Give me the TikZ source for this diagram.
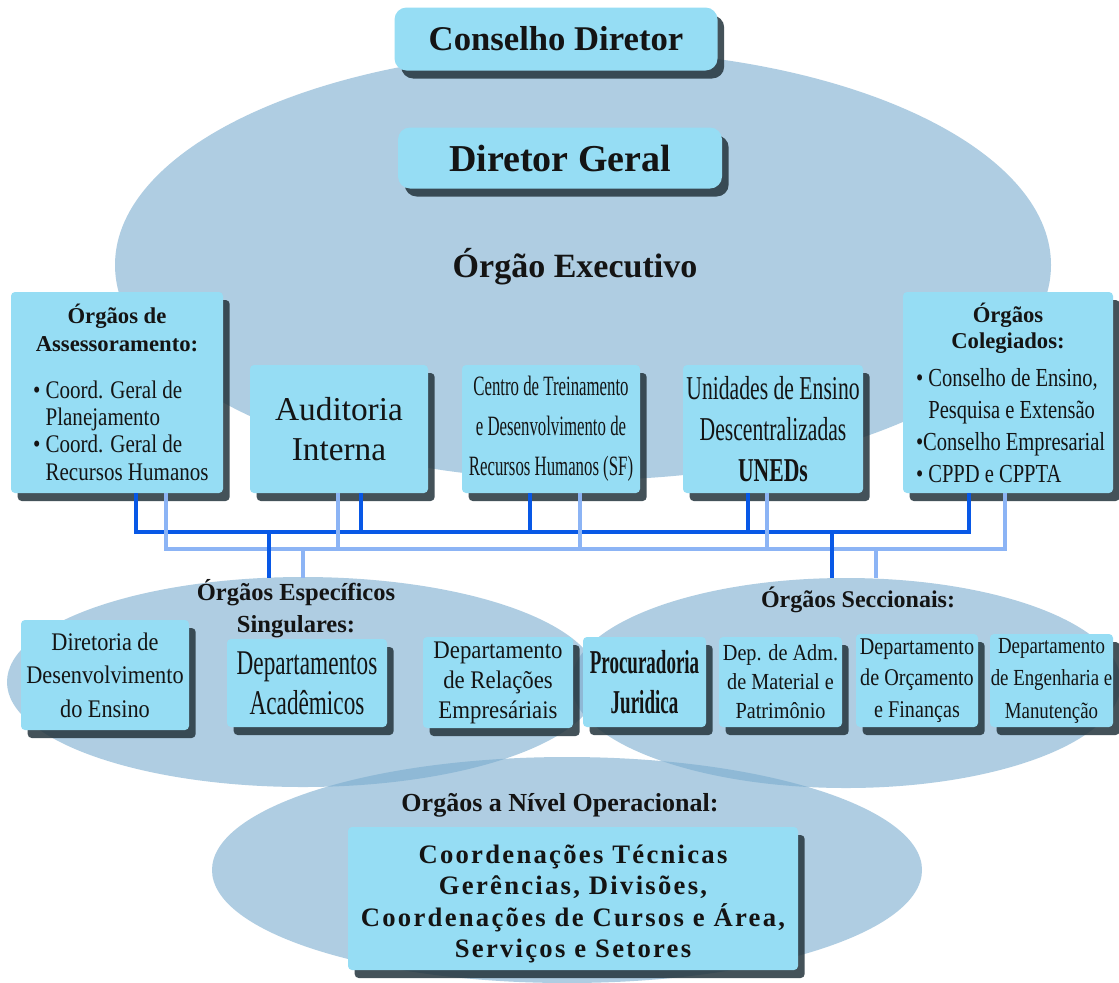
\documentclass[tikz,border=0pt]{standalone}
\usepackage{fontspec}
\setmainfont{Liberation Serif}
\usetikzlibrary{
    shadows,
    positioning
}

\definecolor{fieldblue}{RGB}{122,172,207}
\definecolor{boxcyan}{RGB}{150,221,244}
\definecolor{shade}{RGB}{36,52,60}
\definecolor{busdark}{RGB}{8,88,230}
\definecolor{buslight}{RGB}{140,180,245}
\definecolor{ink}{RGB}{20,20,20}

\newcommand\setfs[2]{\fontsize{#1}{#2}\selectfont}
\newcommand\squeeze[1]{\addfontfeatures{FakeStretch=#1}}
\newcommand\bline[2]{\makebox[#1][l]{#2}}
\newcommand\boxhead[1]{\mbox{\normalfont\setfs{17}{20}\bfseries #1}}

\begin{document}
\begin{tikzpicture}[x=0.75pt, y=-0.75pt,
    field/.style={fill=fieldblue, fill opacity=0.6},
    dims/.style 2 args={minimum width=#1*0.75pt, minimum height=#2*0.75pt},
    orgbox/.style={fill=boxcyan, rounded corners=3pt, inner sep=0pt, align=center, text=ink,
        drop shadow={shadow xshift=5pt, shadow yshift=-6pt, fill=shade, opacity=0.85}},
    headbox/.style={orgbox, rounded corners=9pt},
    lbl/.style={text=ink, align=center, inner sep=0pt},
    darkbus/.style={draw=busdark, line width=3.6pt},
    lightbus/.style={draw=buslight, line width=3.6pt}
]
    \fill[white] (0,0) rectangle (1119,982);
    \useasboundingbox (0,0) rectangle (1119,982);

    % background fields
    \fill[field] (583,265) ellipse [x radius=468, y radius=215];
    \fill[field] (303,682) ellipse [x radius=296, y radius=105];
    \fill[field] (846,683) ellipse [x radius=275, y radius=105];
    \fill[field] (567,870) ellipse [x radius=355, y radius=113];

    % top
    \node[headbox, dims={323}{63}, font=\setfs{26}{30}\bfseries] (council) at (556,39) {Conselho Diretor};
    \node[headbox, dims={324}{61}, font=\setfs{28.5}{32}\bfseries] (director) at (560,158) {Diretor Geral};
    \node[lbl, font=\setfs{25.5}{30}\bfseries] (exec) at (575,267) {Órgão Executivo};

    % executive row
    \node[orgbox, dims={212}{201}, font=\setfs{19}{20.5}\squeeze{0.83}] (assess) at (117,392.5)
        {\boxhead{Órgãos de}\\\boxhead{Assessoramento:}\\[14.7pt]
         \bline{126pt}{• Coord. Geral de}\\
         \bline{126pt}{\phantom{• }Planejamento}\\
         \bline{126pt}{• Coord. Geral de}\\
         \bline{126pt}{\phantom{• }Recursos Humanos}};
    \node[orgbox, dims={178}{128}, font=\setfs{25}{30}] (audit) at (339,429) {Auditoria\\Interna};
    \node[orgbox, dims={178}{128}, font=\setfs{21}{30}\squeeze{0.6}] (centro) at (551,429)
        {Centro de Treinamento\\e Desenvolvimento de\\Recursos Humanos (SF)};
    \node[orgbox, dims={180}{128}, font=\setfs{25}{30.75}\squeeze{0.65}] (unid) at (773,429)
        {Unidades de Ensino\\Descentralizadas\\\textbf{UNEDs}};
    \node[orgbox, dims={210}{201}, font=\setfs{19.5}{23.8}\squeeze{0.79}] (coleg) at (1008,392.5)
        {\boxhead{Órgãos}\\[-3.8pt]\boxhead{Colegiados:}\\[4.7pt]
         \bline{138pt}{• Conselho de Ensino,}\\
         \bline{138pt}{\phantom{• }Pesquisa e Extensão}\\
         \bline{138pt}{•Conselho Empresarial}\\
         \bline{138pt}{• CPPD e CPPTA}};

    % lower rows
    \node[lbl, font=\setfs{18.4}{24}\bfseries] (espec) at (296,609) {Órgãos Específicos\\Singulares:};
    \node[lbl, font=\setfs{18}{22}\bfseries] (secc) at (858,600) {Órgãos Seccionais:};

    \node[orgbox, dims={168}{110}, font=\setfs{19}{25}\squeeze{0.88}] (dirdes) at (105,675)
        {Diretoria de\\Desenvolvimento\\do Ensino};
    \node[orgbox, dims={160}{88}, font=\setfs{26}{30}\squeeze{0.67}] (depacad) at (307,683)
        {Departamentos\\Acadêmicos};
    \node[orgbox, dims={150}{91}, font=\setfs{19}{22.5}\squeeze{0.9}] (deprel) at (498,682.5)
        {Departamento\\de Relações\\Empresáriais};
    \node[orgbox, dims={123}{90}, font=\setfs{25}{30}\bfseries\squeeze{0.57}] (procur) at (644.5,682)
        {Procuradoria\\Juridica};
    \node[orgbox, dims={123}{90}, font=\setfs{17.25}{21.75}\squeeze{0.88}] (depadm) at (780.5,682)
        {Dep. de Adm.\\de Material e\\Patrimônio};
    \node[orgbox, dims={122}{93}, font=\setfs{18}{23.6}\squeeze{0.84}] (deporc) at (917,680.5)
        {Departamento\\de Orçamento\\e Finanças};
    \node[orgbox, dims={123}{93}, font=\setfs{17.25}{24.4}\squeeze{0.82}] (depeng) at (1051.5,680.5)
        {Departamento\\de Engenharia e\\Manutenção};

    \node[lbl, font=\setfs{19.5}{24}\bfseries] (oper) at (560,805) {Orgãos a Nível Operacional:};
    \node[orgbox, dims={450}{143}, font=\setfs{20}{23.6}\bfseries\addfontfeatures{LetterSpace=8.5}] (coord) at (573,898.5)
        {\rule{0pt}{22pt}Coordenações Técnicas\\Gerências, Divisões,\\Coordenações de Cursos e Área,\\Serviços e Setores};

    % buses
    \coordinate (dl) at (136,532);
    \coordinate (dr) at (969,532);
    \coordinate (ll) at (166,549);
    \coordinate (lr) at (1005,549);
    \draw[darkbus] (assess.south -| dl) -- (dl) -- (dr) -- (coleg.south -| dr);
    \foreach \nd/\xx in {audit/361, centro/530, unid/748}
        \draw[darkbus] (\nd.south -| \xx,0) -- (\xx,532);
    \draw[lightbus] (assess.south -| ll) -- (ll) -- (lr) -- (coleg.south -| lr);
    \foreach \nd/\xx in {audit/338, centro/580, unid/767}
        \draw[lightbus] (\nd.south -| \xx,0) -- (\xx,549);

    % drops to the lower fields
    \coordinate (especdark) at (269,578);
    \coordinate (especlight) at (303,578);
    \coordinate (seccdark) at (832,578);
    \coordinate (secclight) at (876,578);
    \draw[lightbus] (especlight |- ll) -- (especlight);
    \draw[lightbus] (secclight |- ll) -- (secclight);
    \draw[darkbus] (especdark |- dl) -- (especdark);
    \draw[darkbus] (seccdark |- dl) -- (seccdark);
\end{tikzpicture}
\end{document}
